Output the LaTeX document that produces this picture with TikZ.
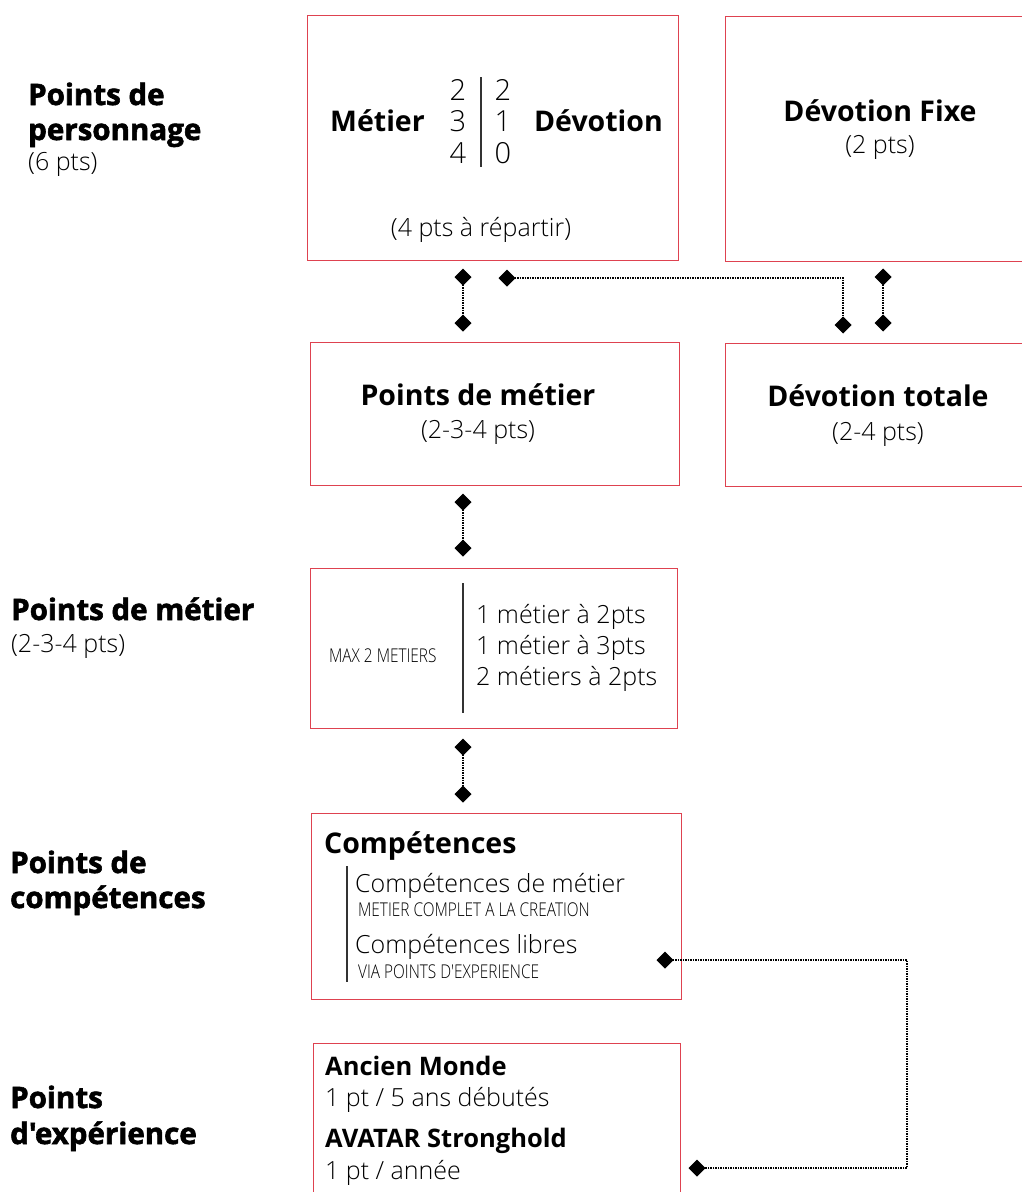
\documentclass[tikz,border=0pt]{standalone}
\usepackage{fontspec}
\setmainfont{Open Sans}
\newfontfamily\lightf{Open Sans Light}
\newfontfamily\heavyf{Open Sans}[FakeBold=2]
\newfontfamily\condf{Open Sans Light}[FakeStretch=0.81]
\usetikzlibrary{arrows.meta}
\definecolor{boxred}{RGB}{222,66,80}
\tikzset{
  box/.style={draw=boxred, line width=1.2pt, anchor=north west, inner sep=0pt},
  lbl/.style={anchor=base west, inner sep=0pt, font=\heavyf\bfseries\fontsize{29.5}{30}\selectfont},
  head/.style={anchor=base, inner sep=0pt, font=\bfseries\fontsize{28.5}{30}\selectfont},
  thin/.style={anchor=base, inner sep=0pt, font=\lightf\fontsize{25}{28}\selectfont},
  cond/.style={anchor=base west, inner sep=0pt, font=\condf\fontsize{19}{22}\selectfont},
  bar/.style={draw=black!80, line width=1.8pt},
  link/.style={dash pattern=on 1.5pt off 1pt, line width=1.3pt,
    {Diamond[length=17pt,width=17pt]}-{Diamond[length=17pt,width=17pt]}}
}
\begin{document}
\begin{tikzpicture}[x=1pt, y=-1pt]
  \clip (0,0) rectangle (1022,1192);

  % left column: what is being counted
  \node[lbl] (lp1) at (28,105) {Points de};
  \node[lbl] (lp2) at (28,140) {personnage};
  \node[thin, anchor=base west] (lp3) at (28,170) {(6 pts)};
  \node[lbl] (lm1) at (11,620) {Points de métier};
  \node[thin, anchor=base west] (lm2) at (11,652) {(2-3-4 pts)};
  \node[lbl] (lc1) at (10,873) {Points de};
  \node[lbl] (lc2) at (10,908) {compétences};
  \node[lbl] (lx1) at (10,1108) {Points};
  \node[lbl] (lx2) at (10,1144) {d'expérience};

  % boxes
  \node[box, minimum width=371pt, minimum height=245pt] (perso) at (307,15) {};
  \node[box, minimum width=330pt, minimum height=245pt] (fixe) at (725,16) {};
  \node[box, minimum width=369pt, minimum height=143pt] (metier) at (310,342) {};
  \node[box, minimum width=330pt, minimum height=143pt] (totale) at (725,343) {};
  \node[box, minimum width=367pt, minimum height=160pt] (choix) at (310,568) {};
  \node[box, minimum width=370pt, minimum height=186pt] (comp) at (311,813) {};
  \node[box, minimum width=367pt, minimum height=200pt] (xp) at (313,1043) {};

  % row 1: split of the 4 pts
  \node[head, anchor=base west] (tmet) at (330,131) {Métier};
  \node[head, anchor=base east] (tdev) at (663,131) {Dévotion};
  \foreach \a/\b [count=\i] in {2/2,3/1,4/0} {
    \node[thin, font=\lightf\fontsize{29}{30}\selectfont] (dl\i) at (458,68.5+31.5*\i) {\a};
    \node[thin, font=\lightf\fontsize{29}{30}\selectfont] (dr\i) at (503,68.5+31.5*\i) {\b};
  }
  \draw[bar, line width=1.5pt] (481,77) -- (481,167);
  \node[thin] (trep) at (481,236) {(4 pts à répartir)};
  \node[head] (tfix) at (880,121) {Dévotion Fixe};
  \node[thin] (tfix2) at (880,153) {(2 pts)};

  % row 2
  \node[head] (tpm) at (478,405) {Points de métier};
  \node[thin] (tpm2) at (478,438) {(2-3-4 pts)};
  \node[head] (ttot) at (878,406) {Dévotion totale};
  \node[thin] (ttot2) at (878,440) {(2-4 pts)};

  % row 3
  \node[cond] (tmax) at (329,662) {MAX 2 METIERS};
  \draw[bar] (463,583) -- (463,713);
  \foreach \t [count=\i] in {1 métier à 2pts,1 métier à 3pts,2 métiers à 2pts}
    \node[thin, anchor=base west] (tm\i) at (476,592+31*\i) {\t};

  % row 4
  \node[head, anchor=base west] (tcomp) at (324,853) {Compétences};
  \draw[bar, line width=1.5pt] (347,866) -- (347,982);
  \node[thin, anchor=base west] (tc1) at (355,892) {Compétences de métier};
  \node[cond] (tc1b) at (358,916) {METIER COMPLET A LA CREATION};
  \node[thin, anchor=base west] (tc2) at (355,953) {Compétences libres};
  \node[cond] (tc2b) at (358,978) {VIA POINTS D'EXPERIENCE};

  % row 5
  \node[head, anchor=base west, font=\bfseries\fontsize{25.5}{28}\selectfont] (tam) at (325,1075) {Ancien Monde};
  \node[thin, anchor=base west] (tam2) at (325,1106) {1 pt / 5 ans débutés};
  \node[head, anchor=base west, font=\bfseries\fontsize{25.5}{28}\selectfont] (tav) at (325,1147) {AVATAR Stronghold};
  \node[thin, anchor=base west] (tav2) at (325,1179) {1 pt / année};

  % connectors
  \coordinate (a1) at (463,268.5); \coordinate (a2) at (463,331.5);
  \coordinate (b1) at (498.5,278); \coordinate (b2) at (843,333.5);
  \coordinate (c1) at (883,268.5); \coordinate (c2) at (883,331.5);
  \coordinate (d1) at (463,493.5); \coordinate (d2) at (463,556.5);
  \coordinate (e1) at (463,738.5); \coordinate (e2) at (463,802.5);
  \coordinate (f1) at (656.5,960); \coordinate (f2) at (688.5,1168);
  \coordinate (fk) at (907,1168);
  \draw[link] (a1) -- (a2);
  \draw[link] (b1) -| (b2);
  \draw[link] (c1) -- (c2);
  \draw[link] (d1) -- (d2);
  \draw[link] (e1) -- (e2);
  \draw[link] (f1) -| (fk) -- (f2);
\end{tikzpicture}
\end{document}
